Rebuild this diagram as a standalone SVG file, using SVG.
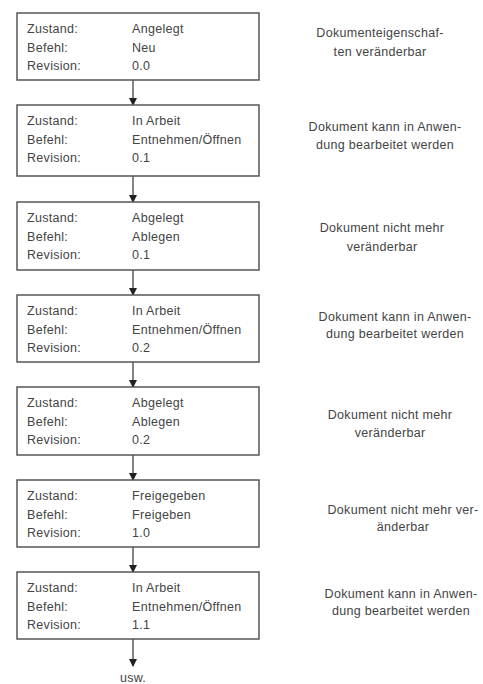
<svg xmlns="http://www.w3.org/2000/svg" width="483" height="684" viewBox="0 0 483 684">
<style>
.box{fill:#fff;stroke:#555;stroke-width:1.5}
text{font-family:"Liberation Sans",Arial,sans-serif;font-size:12.5px;fill:#444;letter-spacing:0.3px}
.n{text-anchor:middle}
.c{stroke:#333;stroke-width:1.2;fill:none}
</style>
<defs>
<marker id="ah" markerUnits="userSpaceOnUse" markerWidth="8" markerHeight="9" refX="7" refY="4" orient="auto">
<path d="M0,0 L8,4 L0,8 Z" fill="#222"/>
</marker>
</defs>
<rect width="483" height="684" fill="#fff"/>
<g id="connectors">
<line class="c" x1="133" y1="80" x2="133" y2="105" marker-end="url(#ah)"/>
<line class="c" x1="133" y1="176" x2="133" y2="202" marker-end="url(#ah)"/>
<line class="c" x1="133" y1="270" x2="133" y2="295" marker-end="url(#ah)"/>
<line class="c" x1="133" y1="362" x2="133" y2="387" marker-end="url(#ah)"/>
<line class="c" x1="133" y1="455" x2="133" y2="480" marker-end="url(#ah)"/>
<line class="c" x1="133" y1="547" x2="133" y2="572" marker-end="url(#ah)"/>
<line class="c" x1="133" y1="639" x2="133" y2="666" marker-end="url(#ah)"/>
</g>
<g id="node1">
<rect class="box" x="17" y="13" width="242" height="67"/>
<text x="27" y="33">Zustand:</text><text x="132" y="33">Angelegt</text>
<text x="27" y="52">Befehl:</text><text x="132" y="52">Neu</text>
<text x="27" y="70">Revision:</text><text x="132" y="70">0.0</text>
</g>
<g id="note1">
<text class="n" x="380" y="37">Dokumenteigenschaf-</text>
<text class="n" x="380" y="56">ten veränderbar</text>
</g>
<g id="node2">
<rect class="box" x="17" y="105" width="242" height="71"/>
<text x="27" y="125">Zustand:</text><text x="132" y="125">In Arbeit</text>
<text x="27" y="144">Befehl:</text><text x="132" y="144">Entnehmen/Öffnen</text>
<text x="27" y="162">Revision:</text><text x="132" y="162">0.1</text>
</g>
<g id="note2">
<text class="n" x="385" y="131">Dokument kann in Anwen-</text>
<text class="n" x="385" y="149">dung bearbeitet werden</text>
</g>
<g id="node3">
<rect class="box" x="17" y="202" width="242" height="68"/>
<text x="27" y="222">Zustand:</text><text x="132" y="222">Abgelegt</text>
<text x="27" y="241">Befehl:</text><text x="132" y="241">Ablegen</text>
<text x="27" y="259">Revision:</text><text x="132" y="259">0.1</text>
</g>
<g id="note3">
<text class="n" x="382" y="232">Dokument nicht mehr</text>
<text class="n" x="382" y="251">veränderbar</text>
</g>
<g id="node4">
<rect class="box" x="17" y="295" width="242" height="67"/>
<text x="27" y="315">Zustand:</text><text x="132" y="315">In Arbeit</text>
<text x="27" y="334">Befehl:</text><text x="132" y="334">Entnehmen/Öffnen</text>
<text x="27" y="352">Revision:</text><text x="132" y="352">0.2</text>
</g>
<g id="note4">
<text class="n" x="395" y="321">Dokument kann in Anwen-</text>
<text class="n" x="395" y="338">dung bearbeitet werden</text>
</g>
<g id="node5">
<rect class="box" x="17" y="387" width="242" height="68"/>
<text x="27" y="407">Zustand:</text><text x="132" y="407">Abgelegt</text>
<text x="27" y="426">Befehl:</text><text x="132" y="426">Ablegen</text>
<text x="27" y="444">Revision:</text><text x="132" y="444">0.2</text>
</g>
<g id="note5">
<text class="n" x="390" y="419">Dokument nicht mehr</text>
<text class="n" x="390" y="437">veränderbar</text>
</g>
<g id="node6">
<rect class="box" x="17" y="480" width="242" height="67"/>
<text x="27" y="500">Zustand:</text><text x="132" y="500">Freigegeben</text>
<text x="27" y="519">Befehl:</text><text x="132" y="519">Freigeben</text>
<text x="27" y="537">Revision:</text><text x="132" y="537">1.0</text>
</g>
<g id="note6">
<text class="n" x="403" y="514">Dokument nicht mehr ver-</text>
<text class="n" x="403" y="531">änderbar</text>
</g>
<g id="node7">
<rect class="box" x="17" y="572" width="242" height="67"/>
<text x="27" y="592">Zustand:</text><text x="132" y="592">In Arbeit</text>
<text x="27" y="611">Befehl:</text><text x="132" y="611">Entnehmen/Öffnen</text>
<text x="27" y="629">Revision:</text><text x="132" y="629">1.1</text>
</g>
<g id="note7">
<text class="n" x="401" y="598">Dokument kann in Anwen-</text>
<text class="n" x="401" y="615">dung bearbeitet werden</text>
</g>
<g id="end">
<text class="n" x="133" y="682">usw.</text>
</g>
</svg>
